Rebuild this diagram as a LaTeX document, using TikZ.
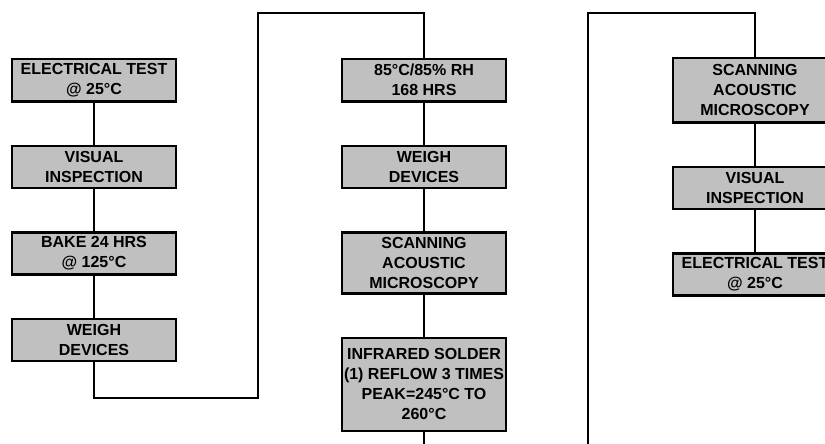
\documentclass[tikz,border=0pt]{standalone}
\usepackage{fontspec}
\setmainfont{Liberation Sans}
\usepackage{xcolor}
\usetikzlibrary{positioning}
\definecolor{boxgray}{HTML}{C0C0C0}

\begin{document}
\begin{tikzpicture}[
    x=1pt, y=-1pt,
    node distance=42pt,
    stage/.style={draw=black, line width=2.5pt, fill=boxgray,
                  minimum width=164pt, minimum height=42pt, align=center,
                  inner sep=2pt, font=\bfseries\fontsize{16}{20}\selectfont},
    link/.style={line width=1.5pt}
]
    \useasboundingbox (0,0) rectangle (825,444);
    % first column
    \node[stage, anchor=north] (elec1) at (94,58) {ELECTRICAL TEST\\@ 25°C};
    \node[stage, below=of elec1] (vis1) {VISUAL\\INSPECTION};
    \node[stage, below=of vis1] (bake) {BAKE 24 HRS\\@ 125°C};
    \node[stage, below=of bake] (weigh1) {WEIGH\\DEVICES};
    % second column
    \node[stage, anchor=north] (soak) at (424,58) {85°C/85\% RH\\168 HRS};
    \node[stage, below=of soak] (weigh2) {WEIGH\\DEVICES};
    \node[stage, below=of weigh2, minimum height=61pt] (sam1) {SCANNING\\ACOUSTIC\\MICROSCOPY};
    \node[stage, below=of sam1, minimum height=93pt] (reflow) {INFRARED SOLDER\\(1) REFLOW 3 TIMES\\PEAK=245°C TO\\260°C};
    % third column
    \node[stage, anchor=north, minimum height=64pt] (sam2) at (755,57) {SCANNING\\ACOUSTIC\\MICROSCOPY};
    \node[stage, below=of sam2] (vis2) {VISUAL\\INSPECTION};
    \node[stage, below=of vis2] (elec2) {ELECTRICAL TEST\\@ 25°C};

    \coordinate (turnA) at (258,398);
    \coordinate (topA) at (424,13);
    \coordinate (exitA) at (424,444);
    \coordinate (enterB) at (588,444);
    \coordinate (topB) at (755,13);

    \draw[link] (elec1) -- (vis1);
    \draw[link] (vis1) -- (bake);
    \draw[link] (bake) -- (weigh1);
    \draw[link] (weigh1.south) |- (turnA) |- (topA) -- (soak.north);
    \draw[link] (soak) -- (weigh2);
    \draw[link] (weigh2) -- (sam1);
    \draw[link] (sam1) -- (reflow);
    \draw[link] (reflow.south) -- (exitA);
    \draw[link] (enterB) |- (topB) -- (sam2.north);
    \draw[link] (sam2) -- (vis2);
    \draw[link] (vis2) -- (elec2);
\end{tikzpicture}
\end{document}
